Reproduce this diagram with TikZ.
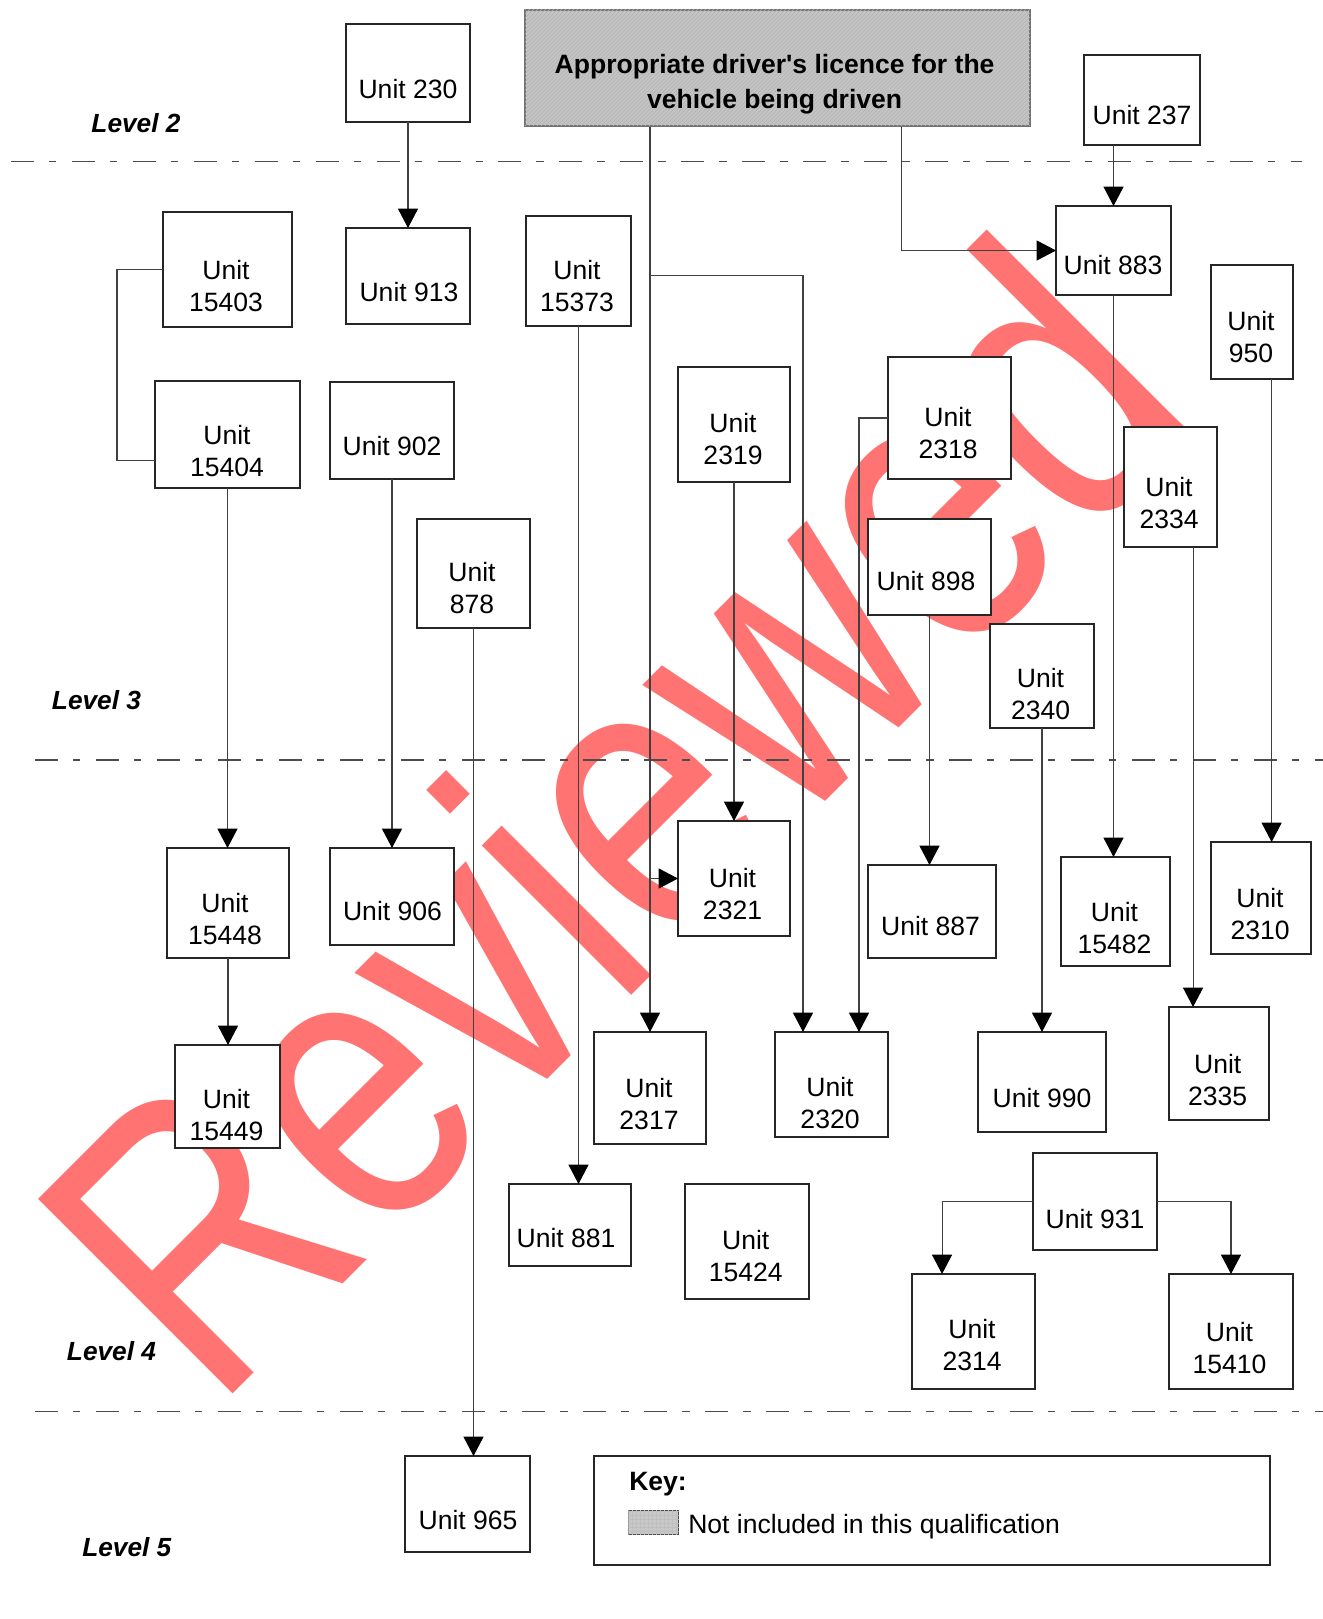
\documentclass[tikz,border=0pt]{standalone}
\usepackage{fontspec}
\setmainfont{Liberation Sans}
\usetikzlibrary{arrows.meta,fit,patterns}
\definecolor{wmred}{RGB}{255,115,115}
\definecolor{titlegray}{RGB}{196,196,196}
\definecolor{swgray}{RGB}{200,200,200}
\newcommand\ubx[7]{\node[ubox,fit={(#2,#3)(#4,#5)}] (#1) {};\node[utext] (#1t) at (#6) {#7};}
\begin{document}
\begin{tikzpicture}[x=0.75pt,y=-0.75pt,
  ubox/.style={draw=black!85,line width=0.9pt,fill=white,inner sep=0pt,outer sep=0pt,rectangle},
  utext/.style={font=\fontsize{19.9pt}{24pt}\selectfont,align=center,inner sep=0pt},
  conn/.style={draw=black!75,line width=0.8pt},
  arr/.style={conn,-{Triangle[length=14.5pt,width=15pt,color=black]}},
  lvl/.style={font=\fontsize{19.7pt}{24pt}\selectfont\bfseries\itshape,inner sep=0pt},
  levelline/.style={draw=black!70,line width=1.1pt,dash pattern=on 17.25pt off 11.25pt on 5.6pt off 11.6pt},
  wm/.style={text=wmred,font=\fontsize{300pt}{300pt}\selectfont,inner sep=0pt}
]
\useasboundingbox[fill=white] (0,0) rectangle (1323,1619);

% watermark
\node[wm,anchor=base,rotate=45] (wm) at (711,916) {\scalebox{0.8}[1]{Reviewed}};

% level separators
\draw[levelline] (11,161.7) -- (1302,161.7);
\draw[levelline] (35,760) -- (1323,760);
\draw[levelline] (35,1411.4) -- (1323,1411.4);

% level labels
\node[lvl] (lv2) at (136,123.3) {Level 2};
\node[lvl] (lv3) at (96.5,699.7) {Level 3};
\node[lvl] (lv4) at (111.5,1350.8) {Level 4};
\node[lvl] (lv5) at (126.8,1546.8) {Level 5};

% title box
\node[draw=black!55,line width=0.9pt,fill=titlegray,inner sep=0pt,
      postaction={pattern=north east lines,pattern color=black!30},
      fit={(525,10)(1030,126)}] (title) {};
\node[font=\fontsize{19.9pt}{26.25pt}\selectfont\bfseries,align=center,inner sep=0pt] (titlet)
  at (774.6,84) {Appropriate driver\textquotesingle s licence for the\\vehicle being driven};

% unit boxes
\ubx{u230}{346}{24}{470}{122}{408,89}{Unit 230}
\ubx{u237}{1084}{55}{1200}{145}{1142,115}{Unit 237}
\ubx{u913}{346}{228}{470}{324}{409,292}{Unit 913}
\ubx{u15403}{163}{212}{292}{327}{226,286}{Unit\\15403}
\ubx{u15373}{526}{216}{631}{326}{577,286}{Unit\\15373}
\ubx{u883}{1056}{206}{1171}{295}{1113,265}{Unit 883}
\ubx{u950}{1211}{265}{1293}{379}{1251,337}{Unit\\950}
\ubx{u15404}{155}{381}{300}{488}{227,451}{Unit\\15404}
\ubx{u902}{330}{382}{454}{479}{392,446}{Unit 902}
\ubx{u2319}{678}{367}{790}{482}{733,439.5}{Unit\\2319}
\ubx{u2318}{888}{357}{1011}{479}{948,433.5}{Unit\\2318}
\ubx{u2334}{1124}{427}{1217}{547}{1169,503.5}{Unit\\2334}
\ubx{u878}{417}{519}{530}{628}{472,588.5}{Unit\\878}
\ubx{u898}{868}{519}{991}{615}{926,581.5}{Unit 898}
\ubx{u2340}{990}{624}{1094}{728}{1040.5,694.5}{Unit\\2340}
\ubx{u15448}{167}{848}{289}{958}{225,918.7}{Unit\\15448}
\ubx{u906}{330}{848}{454}{945}{392.5,911}{Unit 906}
\ubx{u2321}{678}{821}{790}{936}{732.5,894.5}{Unit\\2321}
\ubx{u887}{868}{865}{996}{958}{930.5,926.4}{Unit 887}
\ubx{u15482}{1061}{857}{1170}{966}{1114.5,928}{Unit\\15482}
\ubx{u2310}{1211}{842}{1311}{954}{1260,914}{Unit\\2310}
\ubx{u15449}{175}{1045}{280}{1148}{226.5,1115.5}{Unit\\15449}
\ubx{u2317}{594}{1032}{706}{1144}{649,1104}{Unit\\2317}
\ubx{u2320}{775}{1032}{888}{1137}{830,1103.5}{Unit\\2320}
\ubx{u990}{978}{1032}{1106}{1132}{1042,1098}{Unit 990}
\ubx{u2335}{1169}{1007}{1269}{1120}{1217.7,1079.8}{Unit\\2335}
\ubx{u881}{509}{1184}{631}{1266}{566,1238}{Unit 881}
\ubx{u15424}{685}{1184}{809}{1299}{745.7,1256.5}{Unit\\15424}
\ubx{u931}{1033}{1153}{1157}{1250}{1095,1218.7}{Unit 931}
\ubx{u2314}{912}{1274}{1035}{1389}{972,1345}{Unit\\2314}
\ubx{u15410}{1169}{1274}{1293}{1389}{1229.5,1348}{Unit\\15410}
\ubx{u965}{405}{1456}{530}{1552}{468,1520}{Unit 965}

% key
\node[ubox,fit={(594,1456)(1270,1565)}] (key) {};
\node[font=\fontsize{19.9pt}{24pt}\selectfont\bfseries,anchor=base west,inner sep=0pt] (keyt) at (629,1490.7) {Key:};
\node[draw=black!70,line width=0.7pt,fill=swgray,inner sep=0pt,
      postaction={pattern=grid,pattern color=black!25},
      fit={(628.3,1510)(678.7,1534.3)}] (sw) {};
\node[utext,anchor=base west] (keyn) at (688,1533.3) {Not included in this qualification};

% helper coordinates
\coordinate (j1) at (803,275.3);
\coordinate (j2) at (859,417.7);
\coordinate (j3) at (117,460.7);

% connectors
\draw[arr] (u230.south) -- (u230.south |- u913.north);
\draw[arr] (u237.south -| u883.north) -- (u883.north);
\draw[arr] ([xshift=93.1pt]title.south) |- (u883.west);
\draw[arr] (title.south -| u2317.north) -- (u2317.north);
\draw[arr] (title.south -| u2317.north) |- (j1) -- (j1 |- u2320.north);
\draw[arr] (u2321.west -| u2317.north) -- (u2321.west);
\draw[conn] (u15403.west) -| (j3) -- (j3 -| u15404.west);
\draw[arr] (u15404.south) -- (u15404.south |- u15448.north);
\draw[arr] (u15448.south) -- (u15448.south |- u15449.north);
\draw[arr] (u902.south) -- (u902.south |- u906.north);
\draw[arr] (u878.south) -- (u878.south |- u965.north);
\draw[arr] (u15373.south) -- (u15373.south |- u881.north);
\draw[arr] (u2319.south) -- (u2319.south |- u2321.north);
\draw[arr] (u2318.west) -| (j2 |- u2320.north);
\draw[arr] (u898.south) -- (u898.south |- u887.north);
\draw[arr] (u2340.south) -- (u2340.south |- u990.north);
\draw[arr] (u883.south) -- (u883.south |- u15482.north);
\draw[arr] ([xshift=16.9pt]u2334.south) -- ([xshift=16.9pt]u2334.south |- u2335.north);
\draw[arr] ([xshift=14.7pt]u950.south) -- ([xshift=14.7pt]u950.south |- u2310.north);
\draw[arr] (u931.west) -| ([xshift=-23.6pt]u2314.north);
\draw[arr] (u931.east) -| (u15410.north);
\end{tikzpicture}
\end{document}
